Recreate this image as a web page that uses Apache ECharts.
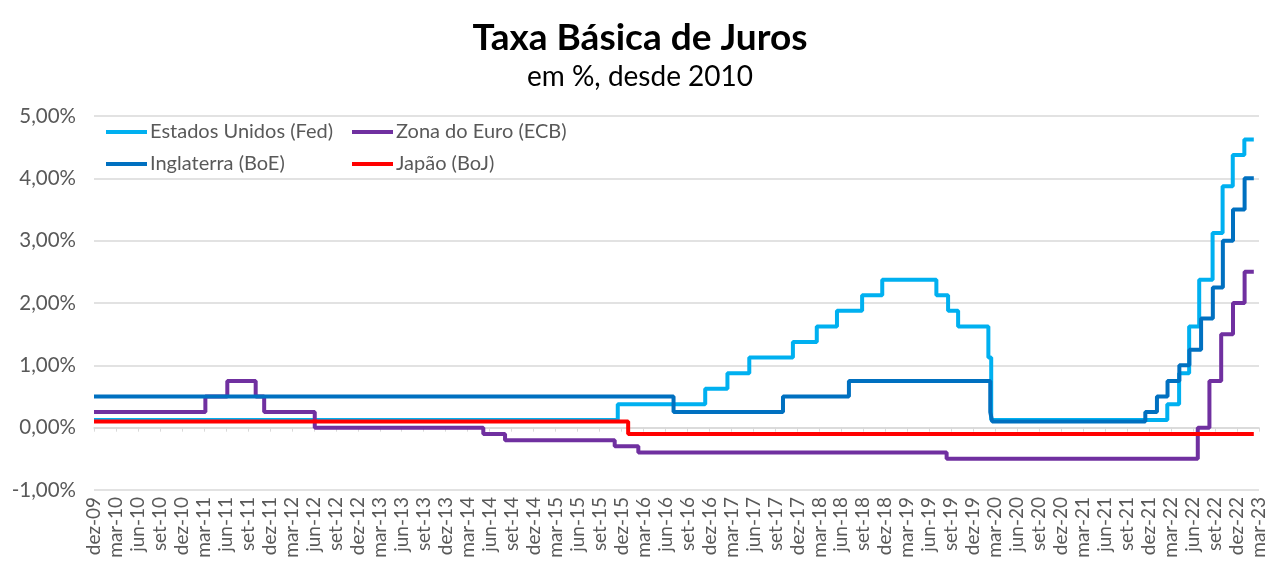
<!DOCTYPE html>
<html>
<head>
<meta charset="utf-8">
<script src="https://cdn.jsdelivr.net/npm/echarts@6/dist/echarts.min.js"></script>
<style>
html,body{margin:0;padding:0;background:#fff;}
#chart{width:1280px;height:572px;}
</style>
</head>
<body>
<div id="chart"></div>
<script>
// Tick labels (one every 3 months)
const tickLabels = [
  "dez-09","mar-10","jun-10","set-10","dez-10","mar-11","jun-11","set-11","dez-11",
  "mar-12","jun-12","set-12","dez-12","mar-13","jun-13","set-13","dez-13",
  "mar-14","jun-14","set-14","dez-14","mar-15","jun-15","set-15","dez-15",
  "mar-16","jun-16","set-16","dez-16","mar-17","jun-17","set-17","dez-17",
  "mar-18","jun-18","set-18","dez-18","mar-19","jun-19","set-19","dez-19",
  "mar-20","jun-20","set-20","dez-20","mar-21","jun-21","set-21","dez-21",
  "mar-22","jun-22","set-22","dez-22","mar-23"
];

// Series: dates where each rate starts, and the rate (%)
const fedDates = ["2010-01-01","2015-12-16","2016-12-14","2017-03-15","2017-06-14","2017-12-13","2018-03-21","2018-06-13","2018-09-26","2018-12-19","2019-07-31","2019-09-18","2019-10-30","2020-03-03","2020-03-15","2022-03-16","2022-05-04","2022-06-15","2022-07-27","2022-09-21","2022-11-02","2022-12-14","2023-02-01","2023-03-10"];
const fedRates = [0.125,0.375,0.625,0.875,1.125,1.375,1.625,1.875,2.125,2.375,2.125,1.875,1.625,1.125,0.125,0.375,0.875,1.625,2.375,3.125,3.875,4.375,4.625,4.625];

const ecbDates = ["2010-01-01","2011-04-07","2011-07-07","2011-11-03","2011-12-08","2012-07-05","2014-06-05","2014-09-04","2015-12-03","2016-03-10","2019-09-12","2022-07-21","2022-09-08","2022-10-27","2022-12-15","2023-02-02","2023-03-10"];
const ecbRates = [0.25,0.5,0.75,0.5,0.25,0,-0.1,-0.2,-0.3,-0.4,-0.5,0,0.75,1.5,2,2.5,2.5];

const boeDates = ["2010-01-01","2016-08-04","2017-11-02","2018-08-02","2020-03-11","2020-03-19","2021-12-16","2022-02-03","2022-03-17","2022-05-05","2022-06-16","2022-08-04","2022-09-22","2022-11-03","2022-12-15","2023-02-02","2023-03-10"];
const boeRates = [0.5,0.25,0.5,0.75,0.25,0.1,0.25,0.5,0.75,1,1.25,1.75,2.25,3,3.5,4,4];

const bojDates = ["2010-01-01","2016-01-29","2023-03-10"];
const bojRates = [0.1,-0.1,-0.1];

const seriesNames = ["Estados Unidos (Fed)","Zona do Euro (ECB)","Inglaterra (BoE)","Japão (BoJ)"];
const seriesColors = ["#00B0F0","#7030A0","#0070C0","#FF0000"];

// month position on the axis (0 = first tick)
function monthPos(s){
  const [y,m,d] = s.split("-").map(Number);
  const dim = new Date(y, m, 0).getDate();
  return (y-2010)*12 + (m-1) + (d-1)/dim;
}
function pairs(dates, rates){ return dates.map((d,i)=>[monthPos(d), rates[i]]); }

const FONT = "Lato";
const chart = echarts.init(document.getElementById('chart'));
const mk = (i, dates, rates) => ({
  name: seriesNames[i], type: 'line', step: 'end', showSymbol: false,
  data: pairs(dates, rates), color: seriesColors[i],
  lineStyle: {width: 4, color: seriesColors[i]}, animation: false, z: 2+i
});
chart.setOption({
  backgroundColor: '#fff',
  animation: false,
  title: [
    {text: 'Taxa Básica de Juros', left: 'center', top: 15,
     textStyle: {fontFamily: FONT, fontWeight: 'bold', fontSize: 37, color: '#000'}},
    {text: 'em %, desde 2010', left: 'center', top: 58,
     textStyle: {fontFamily: FONT, fontWeight: 'normal', fontSize: 28, color: '#000'}}
  ],
  legend: [
    {data: [seriesNames[0], seriesNames[2]], orient: 'vertical', left: 101, top: 117,
     icon: 'rect', itemWidth: 41, itemHeight: 4, itemGap: 12,
     textStyle: {fontFamily: FONT, fontSize: 20, color: '#595959', padding: [0,0,0,-2]}},
    {data: [seriesNames[1], seriesNames[3]], orient: 'vertical', left: 347, top: 117,
     icon: 'rect', itemWidth: 41, itemHeight: 4, itemGap: 12,
     textStyle: {fontFamily: FONT, fontSize: 20, color: '#595959', padding: [0,0,0,-2]}}
  ],
  grid: {left: 94, right: 21, top: 116, bottom: 82, containLabel: false},
  xAxis: [
    {type: 'value', min: 0, max: 159, interval: 3,
     axisLine: {show: false, onZero: false}, axisTick: {show: false}, splitLine: {show: false},
     axisLabel: {rotate: 90, fontFamily: FONT, fontSize: 19, color: '#595959', margin: 7,
       formatter: v => tickLabels[Math.round(v/3)] || ''}},
    {type: 'value', min: 0, max: 159, interval: 3, position: 'bottom',
     axisLine: {show: true, onZero: true, lineStyle: {color: '#d9d9d9', width: 1.5}},
     axisTick: {show: true, length: 4, lineStyle: {color: '#d9d9d9'}},
     axisLabel: {show: false}, splitLine: {show: false}}
  ],
  yAxis: {type: 'value', min: -1, max: 5, interval: 1,
    axisLine: {show: false}, axisTick: {show: false},
    splitLine: {lineStyle: {color: '#d9d9d9', width: 1.5}},
    axisLabel: {fontFamily: FONT, fontSize: 20.5, color: '#595959', margin: 18,
      formatter: v => v.toFixed(2).replace('.', ',') + '%'}},
  series: [
    mk(0, fedDates, fedRates),
    mk(1, ecbDates, ecbRates),
    mk(2, boeDates, boeRates),
    mk(3, bojDates, bojRates)
  ]
});
</script>
</body>
</html>
